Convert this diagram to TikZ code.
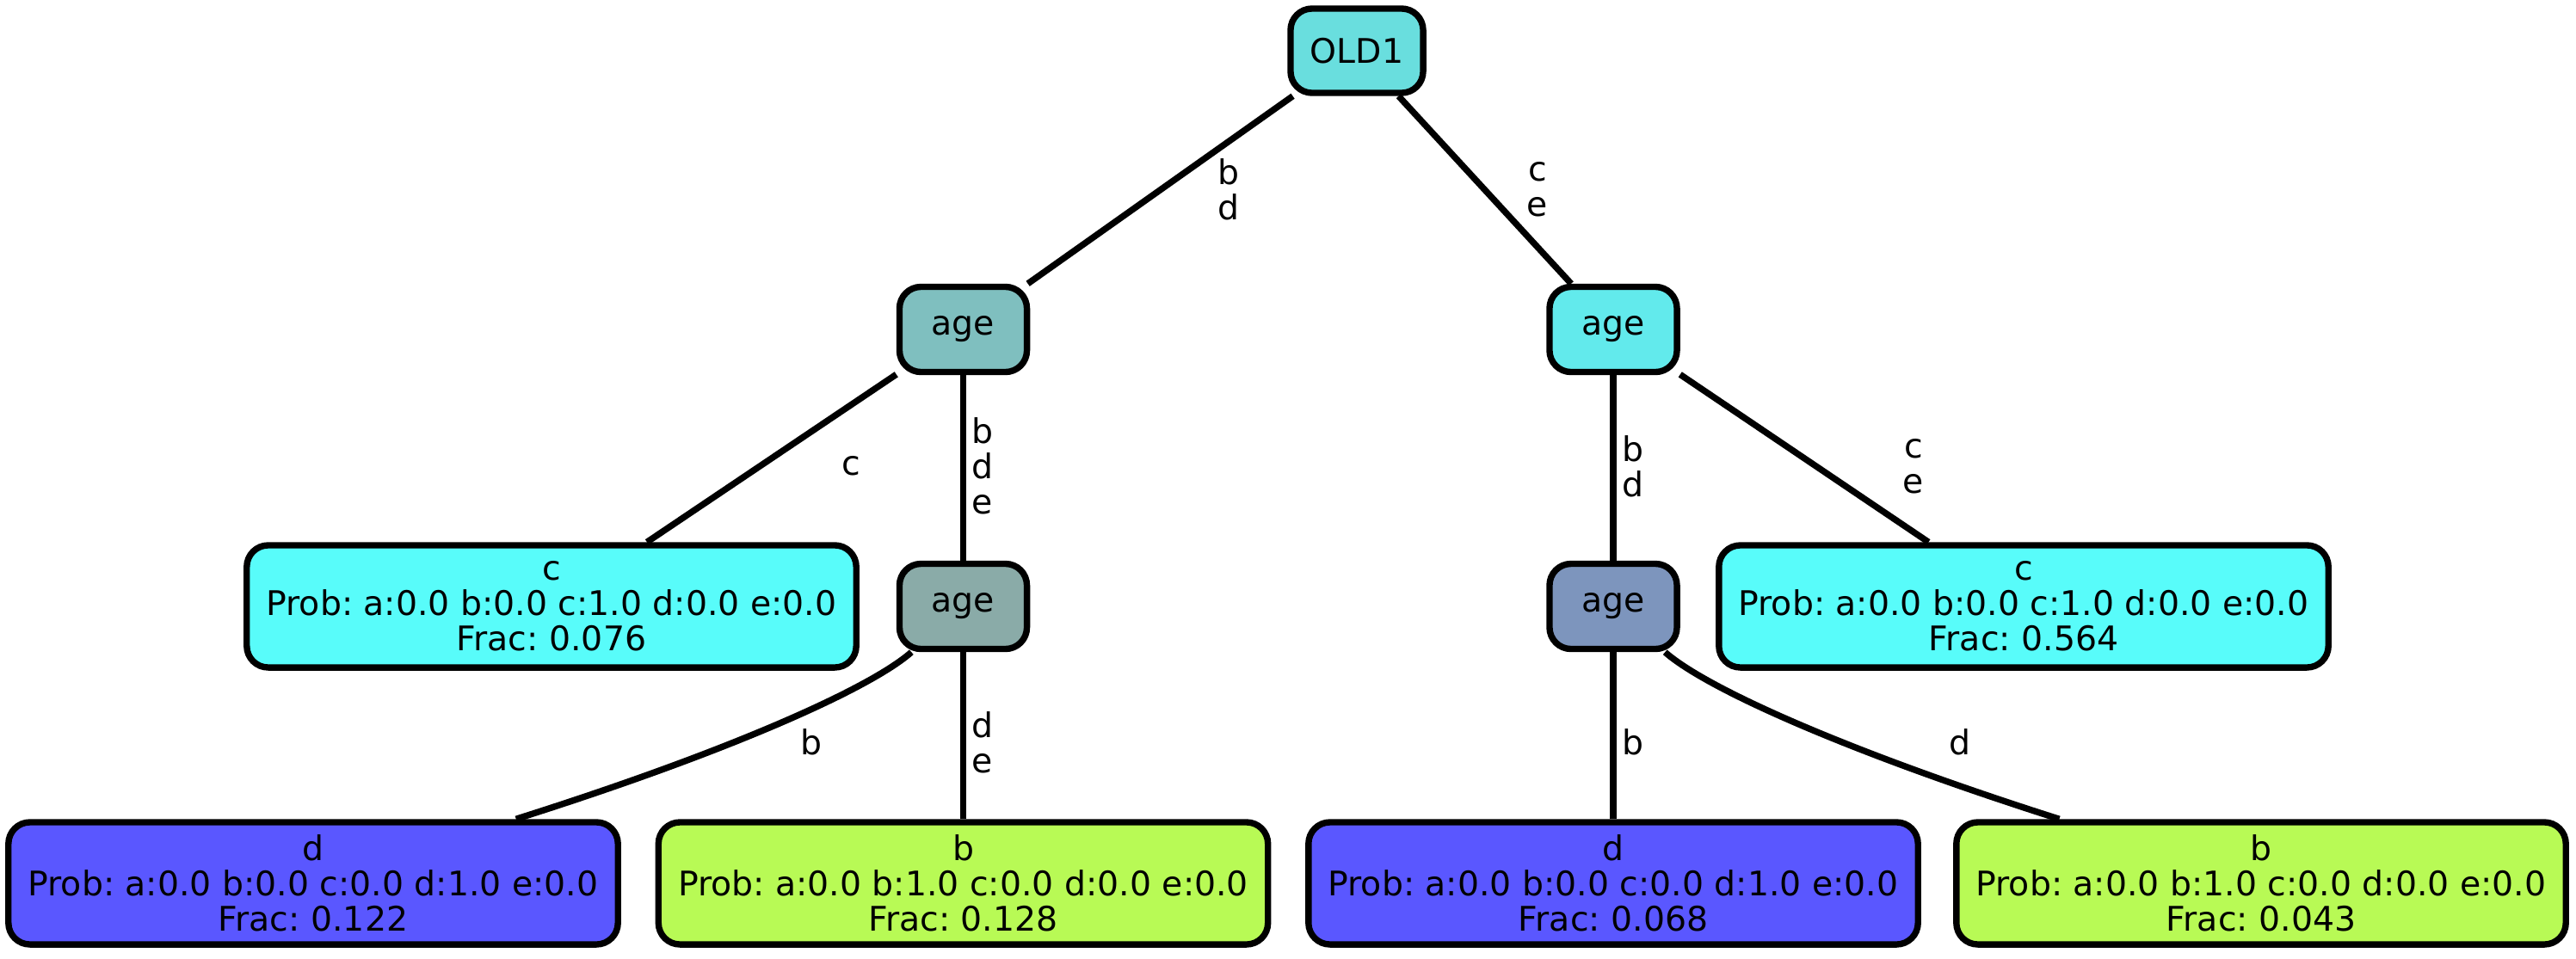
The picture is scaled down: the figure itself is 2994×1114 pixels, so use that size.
\documentclass[tikz,border=0pt]{standalone}
\usepackage[HTML]{xcolor}
\usepackage{fontspec}
\setmainfont{DejaVu Sans}
\usepackage{tikz}
\usetikzlibrary{positioning}

\definecolor{rootcol}{HTML}{69DEDE}
\definecolor{agecolA}{HTML}{7FBFBF}
\definecolor{agecolB}{HTML}{8AABA8}
\definecolor{agecolC}{HTML}{62EAEC}
\definecolor{agecolD}{HTML}{7D95BD}
\definecolor{leafc}{HTML}{58FCFA}
\definecolor{leafd}{HTML}{5A57FF}
\definecolor{leafb}{HTML}{B8FA55}
\frenchspacing

\begin{document}
\begin{tikzpicture}[x=0.01cm,y=-0.01cm,
  font=\fontsize{11.2}{11.6}\selectfont,
  inner/.style={draw,line width=2.1pt,rounded corners=0.25cm,minimum width=1.48cm,minimum height=0.99cm,inner sep=0pt},
  leaf/.style={draw,line width=2.1pt,rounded corners=0.25cm,minimum width=7.08cm,minimum height=1.42cm,inner sep=0pt,align=center},
  edge/.style={line width=2.1pt},
  lbl/.style={align=center,inner sep=0pt}]
\useasboundingbox (0,0) rectangle (2994,1114);

\node[inner,fill=rootcol,minimum width=1.54cm,minimum height=0.98cm] (old1) at (1577,59) {OLD1};
\node[inner,fill=agecolA] (age1) at (1119.5,383) {age};
\node[inner,fill=agecolB] (age2) at (1119.5,705) {age};
\node[inner,fill=agecolC] (age3) at (1875,383) {age};
\node[inner,fill=agecolD] (age4) at (1875,705) {age};

\node[leaf,fill=leafc] (leafc1) at (641,705) {c\\Prob: a:0.0 b:0.0 c:1.0 d:0.0 e:0.0\\Frac: 0.076};
\node[leaf,fill=leafc] (leafc2) at (2352,705) {c\\Prob: a:0.0 b:0.0 c:1.0 d:0.0 e:0.0\\Frac: 0.564};
\node[leaf,fill=leafd] (leafd1) at (364,1027) {d\\Prob: a:0.0 b:0.0 c:0.0 d:1.0 e:0.0\\Frac: 0.122};
\node[leaf,fill=leafb] (leafb1) at (1119.5,1027) {b\\Prob: a:0.0 b:1.0 c:0.0 d:0.0 e:0.0\\Frac: 0.128};
\node[leaf,fill=leafd] (leafd2) at (1875,1027) {d\\Prob: a:0.0 b:0.0 c:0.0 d:1.0 e:0.0\\Frac: 0.068};
\node[leaf,fill=leafb] (leafb2) at (2628,1027) {b\\Prob: a:0.0 b:1.0 c:0.0 d:0.0 e:0.0\\Frac: 0.043};

\draw[edge] (old1) -- (age1);
\draw[edge] (old1) -- (age3);
\draw[edge] (age1) -- (leafc1);
\draw[edge] (age1) -- (age2);
\draw[edge] (age2) .. controls (1012,800) and (850,873) .. (leafd1);
\draw[edge] (age2) -- (leafb1);
\draw[edge] (age3) -- (age4);
\draw[edge] (age3) -- (leafc2);
\draw[edge] (age4) -- (leafd2);
\draw[edge] (age4) .. controls (1982.5,800) and (2144.5,873) .. (leafb2);

\node[lbl] (lbl1) at (1428,220) {b\\d};
\node[lbl] (lbl2) at (1787,220) {c\\e};
\node[lbl] (lbl3) at (989,542) {c};
\node[lbl] (lbl4) at (1142,542) {b\\d\\e};
\node[lbl] (lbl5) at (943,863) {b};
\node[lbl] (lbl6) at (1142,863) {d\\e};
\node[lbl] (lbl7) at (1898,542) {b\\d};
\node[lbl] (lbl8) at (2224,542) {c\\e};
\node[lbl] (lbl9) at (1898,863) {b};
\node[lbl] (lbl10) at (2278,863) {d};
\end{tikzpicture}
\end{document}
